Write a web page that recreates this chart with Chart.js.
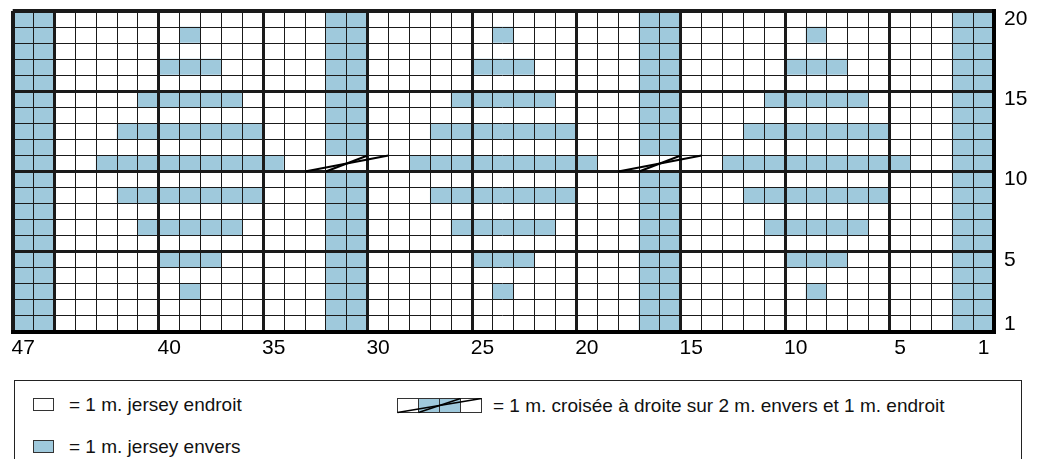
<!DOCTYPE html>
<html><head><meta charset="utf-8">
<script src="https://cdn.jsdelivr.net/npm/chart.js@4.4.1/dist/chart.umd.min.js"></script>
<style>
html,body{margin:0;padding:0;background:#fff;}
#wrap{position:relative;width:1041px;height:459px;overflow:hidden;background:#fff;}
#c{position:absolute;left:0;top:0;}
.lg{position:absolute;font-family:'Liberation Sans',Arial,sans-serif;font-size:19px;color:#111;white-space:nowrap;line-height:1;}
.ico{position:absolute;box-sizing:border-box;border:1px solid #333;width:21px;height:13px;}
</style></head><body>
<div id="wrap">
<canvas id="c" width="1041" height="372"></canvas>
<div style="position:absolute;left:14px;top:380px;width:1008px;height:120px;border:1px solid #222;box-sizing:border-box;"></div>
<div class="ico" style="left:33px;top:398px;background:#fff;"></div>
<div class="lg" style="left:69px;top:395px;">= 1 m. jersey endroit</div>
<div class="ico" style="left:33px;top:440px;background:#9fc9dc;"></div>
<div class="lg" style="left:69px;top:437px;">= 1 m. jersey envers</div>
<svg style="position:absolute;left:397px;top:398px;" width="88" height="16" viewBox="0 0 88 16">
  <rect x="0.5" y="0.5" width="21" height="14" fill="#fff" stroke="#333"/>
  <rect x="21.5" y="0.5" width="21" height="14" fill="#9fc9dc" stroke="#333"/>
  <rect x="42.5" y="0.5" width="21" height="14" fill="#9fc9dc" stroke="#333"/>
  <rect x="63.5" y="0.5" width="21" height="14" fill="#fff" stroke="#333"/>
  <line x1="0.5" y1="14.5" x2="84.5" y2="0.5" stroke="#000" stroke-width="1.6"/>
  <line x1="21.5" y1="14.5" x2="63.5" y2="0.5" stroke="#000" stroke-width="1.6"/>
</svg>
<div class="lg" style="left:493px;top:396px;">= 1 m. croisée à droite sur 2 m. envers et 1 m. endroit</div>
</div>
<script>
// ---- data ----
const stitches = [47,46,45,44,43,42,41,40,39,38,37,36,35,34,33,32,31,30,29,28,27,26,25,24,23,22,21,20,19,18,17,16,15,14,13,12,11,10,9,8,7,6,5,4,3,2,1];
const rowNumbers = [1,2,3,4,5,6,7,8,9,10,11,12,13,14,15,16,17,18,19,20];
const xTickLabels = ['47','40','35','30','25','20','15','10','5','1'];
const yTickLabels = ['1','5','10','15','20'];
const thickColumnEdges = [45,40,35,30,25,20,15,10,5];
const thickRowEdges = [5,10,15];
// full-height purl (envers) columns
const purlColumns = [47,46,32,31,17,16,2,1];
// purl motif spans per row: [fromStitch, toStitch]
const motifRow3  = [[39,39],[24,24],[9,9]];
const motifRow5  = [[40,38],[25,23],[10,8]];
const motifRow7  = [[41,37],[26,22],[11,7]];
const motifRow9  = [[42,36],[27,21],[12,6]];
const motifRow11 = [[43,35],[28,20],[13,5]];
const motifRow13 = [[42,36],[27,21],[12,6]];
const motifRow15 = [[41,37],[26,22],[11,7]];
const motifRow17 = [[40,38],[25,23],[10,8]];
const motifRow19 = [[39,39],[24,24],[9,9]];
const motifByRow = {3:motifRow3,5:motifRow5,7:motifRow7,9:motifRow9,11:motifRow11,13:motifRow13,15:motifRow15,17:motifRow17,19:motifRow19};
// cable crossings (row 11)
const cableRow = 11;
const cableSpans = [[33,30],[18,15]];
const cellHeight = 1;

const BLUE = '#9fc9dc', WHITE = '#ffffff';
const AXIS_FONT = "'Liberation Sans',Arial,sans-serif";

function inSpan(col, span){ return col <= span[0] && col >= span[1]; }
function isPurl(col,row){
  if (row === cableRow && cableSpans.some(s=>inSpan(col,s))) return false;
  if (purlColumns.includes(col)) return true;
  const m = motifByRow[row];
  return !!(m && m.some(s=>inSpan(col,s)));
}

const datasets = rowNumbers.map(r => ({
  label: 'Rang ' + r,
  data: stitches.map(() => cellHeight),
  backgroundColor: stitches.map(c => isPurl(c,r) ? BLUE : WHITE),
  borderWidth: 0,
  barPercentage: 1,
  categoryPercentage: 1
}));

const cablePlugin = {
  id: 'cables',
  afterDraw(chart){
    const {ctx, scales:{x, y}} = chart;
    const half = (x.getPixelForValue(1) - x.getPixelForValue(0)) / 2;
    const yb = y.getPixelForValue(cableRow - 1), yt = y.getPixelForValue(cableRow);
    ctx.save();
    ctx.strokeStyle = '#000'; ctx.lineWidth = 2; ctx.lineCap = 'butt';
    cableSpans.forEach(([a,b]) => {
      const ia = stitches.indexOf(a), ib = stitches.indexOf(b);
      const xl = x.getPixelForValue(ia) - half, xr = x.getPixelForValue(ib) + half;
      ctx.beginPath(); ctx.moveTo(xl, yb); ctx.lineTo(xr, yt); ctx.stroke();
      ctx.beginPath(); ctx.moveTo(xl + 2*half, yb); ctx.lineTo(xr - 2*half, yt); ctx.stroke();
    });
    ctx.restore();
  }
};

new Chart(document.getElementById('c'), {
  type: 'bar',
  data: { labels: stitches.map(String), datasets },
  options: {
    responsive: false,
    animation: false,
    layout: { padding: { left: 12.7, top: 11, right: 0, bottom: 0 } },
    plugins: { legend: { display: false }, tooltip: { enabled: false } },
    scales: {
      x: {
        stacked: true, offset: true,
        grid: {
          z: 1, offset: true, drawTicks: false, color: '#1a1a1a',
          lineWidth: (c) => {
            if (c.index === undefined || c.index === 0) return 4;
            return thickColumnEdges.includes(stitches[c.index]) ? 3 : 1;
          }
        },
        border: { z: 2, display: true, width: 4, color: '#000' },
        ticks: {
          autoSkip: false, maxRotation: 0, minRotation: 0, padding: 4, color: '#000',
          font: { family: AXIS_FONT, size: 21 },
          callback(v){ const l = this.getLabelForValue(v); return xTickLabels.includes(l) ? l : ''; }
        },
        afterFit(s){ s.height = 40; s.paddingLeft = 0; s.paddingRight = 0; }
      },
      y: {
        stacked: true, position: 'right', min: 0, max: 20,
        grid: {
          z: 1, drawTicks: false, color: '#1a1a1a',
          lineWidth: (c) => {
            const v = c.tick ? c.tick.value : 0;
            if (v === 0 || v === 20) return 4;
            return thickRowEdges.includes(v) ? 3 : 1;
          }
        },
        border: { z: 2, display: true, width: 4, color: '#000' },
        ticks: {
          stepSize: 1, autoSkip: false, labelOffset: 8, padding: 10, color: '#000',
          font: { family: AXIS_FONT, size: 21 },
          callback(v){ return yTickLabels.includes(String(v)) ? String(v) : ''; }
        },
        afterFit(s){ s.width = 47; s.paddingTop = 0; s.paddingBottom = 0; }
      }
    }
  },
  plugins: [cablePlugin]
});
</script>
</body></html>
